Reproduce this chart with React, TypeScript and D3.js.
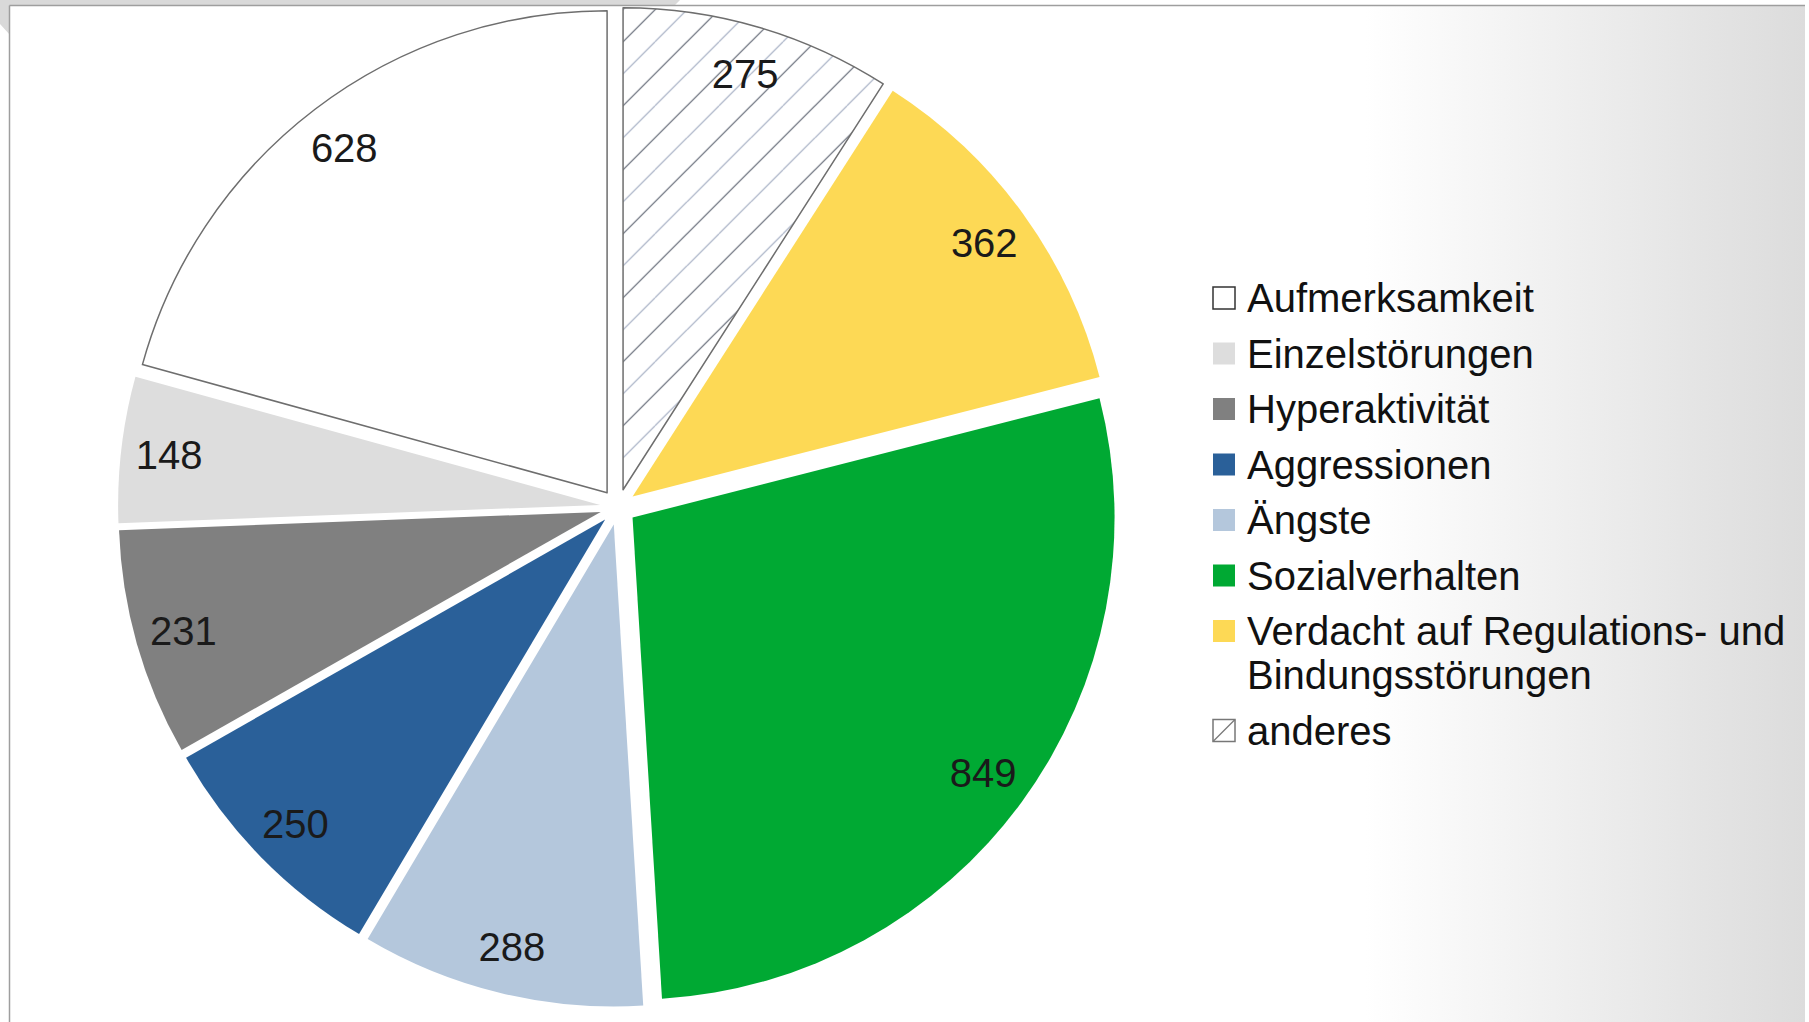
import * as d3 from "d3";

// categories in legend order (pie runs counter-clockwise from 12 o'clock)
const categories = [
  "Aufmerksamkeit",
  "Einzelstörungen",
  "Hyperaktivität",
  "Aggressionen",
  "Ängste",
  "Sozialverhalten",
  "Verdacht auf Regulations- und Bindungsstörungen",
  "anderes",
];
const counts = [628, 148, 231, 250, 288, 849, 362, 275];
const colors = ["#ffffff", "#dddddd", "#808080", "#2a6099", "#b4c7dc", "#00a933", "#fdd955", "url(#hatch)"];

const W = 1809;
const H = 1022;
const cx = 618;
const cy = 507;
const radius = 482;
const explode = 18;
const fontFamily = "'Liberation Sans', Arial, sans-serif";

// naive wrap for long legend entries
const wrap = (s: string, max = 30) => {
  if (s.length <= max) return [s];
  const cut = s.lastIndexOf(" ", max);
  return [s.slice(0, cut), s.slice(cut + 1)];
};

const App = () => {
  const pie = d3
    .pie<number>()
    .sort(null)
    .startAngle(0)
    .endAngle(-2 * Math.PI)
    .value((d) => d);
  const arcs = pie(counts);
  const arc = d3.arc<d3.PieArcDatum<number>>().innerRadius(0).outerRadius(radius);

  const offset = (a: d3.PieArcDatum<number>, dist: number) => {
    const mid = (a.startAngle + a.endAngle) / 2;
    return [Math.sin(mid) * dist, -Math.cos(mid) * dist];
  };

  // legend rows
  let y = 298;
  const rows = categories.map((c, i) => {
    const lines = wrap(c);
    const row = { c, i, y, lines };
    y += 55.5 + (lines.length - 1) * 44;
    return row;
  });

  return (
    <svg
      width={W}
      height={H}
      style={{ position: "absolute", left: 0, top: 0, background: "#fff" }}
      fontFamily={fontFamily}
    >
      <defs>
        <linearGradient id="bg" x1="0" x2="1" y1="0" y2="0">
          <stop offset="0" stopColor="#ffffff" />
          <stop offset="0.755" stopColor="#ffffff" />
          <stop offset="1" stopColor="#dcdcdc" />
        </linearGradient>
        <pattern id="hatch" patternUnits="userSpaceOnUse" width={64} height={64}>
          <rect width={64} height={64} fill="#ffffff" />
          <path d="M0,64L64,0M-8,8L8,-8M56,72L72,56" stroke="#5f6673" strokeWidth={1.2} />
          <path d="M0,32L32,0M32,64L64,32" stroke="#a9b2c6" strokeWidth={1.2} />
        </pattern>
      </defs>

      {/* frame */}
      <rect x={0} y={0} width={W} height={H} fill="#ffffff" />
      <rect x={10} y={6} width={1795} height={H - 6} fill="url(#bg)" />
      <path d="M0,0H680L675,5H10V35L0,24Z" fill="#d9d9d9" />
      <line x1={9.5} y1={5.5} x2={1805} y2={5.5} stroke="#9e9e9e" strokeWidth={1.5} />
      <line x1={9.5} y1={5.5} x2={9.5} y2={H} stroke="#9e9e9e" strokeWidth={1.5} />

      {/* slices */}
      <g transform={`translate(${cx},${cy})`}>
        {arcs.map((a, i) => {
          const [dx, dy] = offset(a, explode);
          const outlined = i === 0 || i === 7;
          return (
            <path
              key={categories[i]}
              d={arc(a) ?? ""}
              transform={`translate(${dx},${dy})`}
              fill={colors[i]}
              stroke={outlined ? "#6e6e6e" : "none"}
              strokeWidth={outlined ? 1.5 : 0}
              strokeLinejoin="round"
            />
          );
        })}
        {arcs.map((a, i) => {
          const [dx, dy] = offset(a, explode);
          const [lx, ly] = offset(a, radius * 0.9);
          return (
            <text
              key={`lbl-${i}`}
              x={dx + lx}
              y={dy + ly}
              dy="0.36em"
              textAnchor="middle"
              fontSize={40}
              fill="#1a1a1a"
            >
              {counts[i]}
            </text>
          );
        })}
      </g>

      {/* legend */}
      <g>
        {rows.map(({ c, i, y, lines }) => (
          <g key={`leg-${c}`}>
            <rect
              x={1213}
              y={y - 11}
              width={22}
              height={22}
              fill={i === 7 ? "#ffffff" : colors[i]}
              stroke={i === 0 ? "#333" : i === 7 ? "#777" : "none"}
              strokeWidth={1.5}
            />
            {i === 7 && (
              <line x1={1213} y1={y + 11} x2={1235} y2={y - 11} stroke="#777" strokeWidth={1.2} />
            )}
            <text x={1247} y={y} fontSize={40} fill="#111">
              {lines.map((l, k) => (
                <tspan key={k} x={1247} dy={k === 0 ? "0.36em" : 44}>
                  {l}
                </tspan>
              ))}
            </text>
          </g>
        ))}
      </g>
    </svg>
  );
};

export default App;
